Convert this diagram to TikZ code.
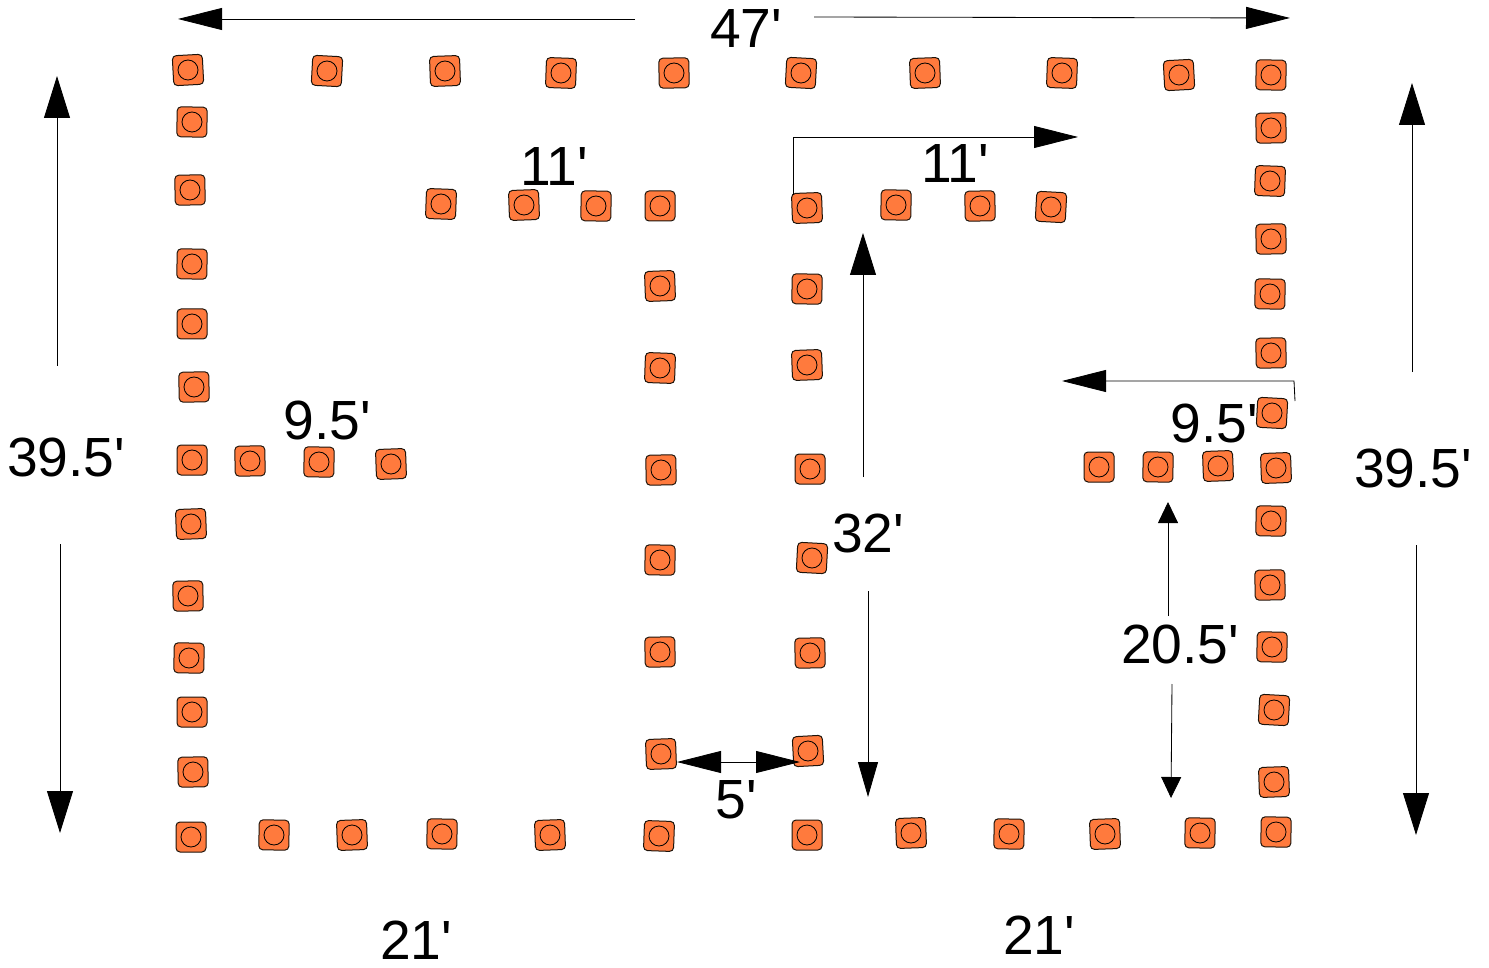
\documentclass[tikz,border=0pt]{standalone}
\usepackage{fontspec}
\newfontfamily\labelfont{Liberation Sans}
\usetikzlibrary{arrows.meta}
\definecolor{coneorange}{RGB}{255,122,61}
\tikzset{
  x=0.5pt,y=-0.5pt,
  conebox/.style={draw=black!85!brown,line width=0.5pt,fill=coneorange,rounded corners=2pt,minimum size=15pt,inner sep=0pt,outer sep=0pt},
  conering/.style={draw=black,line width=0.4pt,circle,minimum size=10pt,inner sep=0pt,fill=coneorange},
  dimline/.style={draw=black,line width=0.42pt,-{Triangle[length=22pt,width=11pt]}},
  dimtall/.style={draw=black,line width=0.42pt,-{Triangle[length=21pt,width=13pt]}},
  dimdown/.style={draw=black,line width=0.42pt,-{Triangle[length=17.5pt,width=10pt]}},
  dimsmall/.style={draw=black,line width=0.42pt,-{Triangle[length=10.5pt,width=10pt]}},
  dimlabel/.style={font=\labelfont\fontsize{27.6}{30}\selectfont,inner sep=0pt},
}
\begin{document}
\begin{tikzpicture}
\useasboundingbox (0,0) rectangle (1489,968);
\foreach \cn/\cx/\cy/\cr in {
 a1/188/70/3,a2/327/71/-3,a3/445/71/2,a4/561/73/-2,a5/674/73/1,a6/801/73/-3,a7/925/73/2,a8/1062/73/-2,a9/1179/75/3,a10/1271/75/-1,
 r1/1271/128/1,r2/1270/181/-2,r3/1271/239/1,r4/1270/294/-1,r5/1271/353/1,r6/1272/413/-3,r7/1276/468/2,r8/1271/521/-1,r9/1270/585/1,r10/1272/647/-1,r11/1274/710/-3,r12/1274/782/2,r13/1276/832/-1,
 l1/192/122/-1,l2/190/190/1,l3/192/264/-1,l4/192/324/0,l5/194/387/1,l6/192/460/0,l7/191/524/2,l8/188/596/1,l9/189/658/-1,l10/192/712/0,l11/193/772/1,
 b1/191/837/0,b2/274/835/-1,b3/352/835/2,b4/442/834/-1,b5/550/835/2,b6/659/836/-2,b7/807/835/0,b8/911/833/2,b9/1009/834/-1,b10/1105/834/2,b11/1200/833/-1,
 m1/441/204/-2,m2/524/205/2,m3/596/206/-1,m4/660/206/0,
 n1/807/208/2,n2/896/205/-1,n3/980/206/1,n4/1051/207/-3,
 p1/660/286/2,p2/660/368/-2,p3/661/470/1,p4/660/560/-1,p5/660/652/1,p6/661/754/2,
 q1/807/289/-1,q2/807/365/2,q3/810/469/0,q4/812/558/-3,q5/810/653/1,q6/808/751/3,
 w1/250/461/1,w2/319/462/-1,w3/391/464/2,
 v1/1099/467/0,v2/1158/467/-1,v3/1218/466/2} {
  \node[conebox,rotate=\cr] (\cn) at (\cx,\cy) {};
  \node[conering] (\cn ring) at (\cx,\cy) {};
}
\coordinate (tl) at (635,19);   \coordinate (tlEnd) at (178,19);
\coordinate (tr) at (814,17);   \coordinate (trEnd) at (1290,18);
\coordinate (lu) at (57,366);   \coordinate (luEnd) at (57,76);
\coordinate (ld) at (60,544);   \coordinate (ldEnd) at (60,833);
\coordinate (ru) at (1412,372); \coordinate (ruEnd) at (1412,83);
\coordinate (rd) at (1416,545); \coordinate (rdEnd) at (1416,835);
\coordinate (e0) at (793,195);  \coordinate (e1) at (793,137);  \coordinate (eEnd) at (1078,137);
\coordinate (c1) at (863,477);  \coordinate (c1End) at (863,233);
\coordinate (c2) at (868,591);  \coordinate (c2End) at (868,797);
\coordinate (g1) at (1168,616); \coordinate (g1End) at (1168,502);
\coordinate (g2) at (1172,684); \coordinate (g2End) at (1171,798);
\coordinate (h0) at (1295,401); \coordinate (h1) at (1294,381); \coordinate (hEnd) at (1062,381);
\coordinate (f1) at (677,762);  \coordinate (f2) at (800,762);
\draw[dimline] (tl) -- (tlEnd);
\draw[dimline] (tr) -- (trEnd);
\draw[dimtall] (lu) -- (luEnd);
\draw[dimtall] (ld) -- (ldEnd);
\draw[dimtall] (ru) -- (ruEnd);
\draw[dimtall] (rd) -- (rdEnd);
\draw[dimline] (e0) -- (e1) -- (eEnd);
\draw[dimtall] (c1) -- (c1End);
\draw[dimdown] (c2) -- (c2End);
\draw[dimsmall] (g1) -- (g1End);
\draw[dimsmall] (g2) -- (g2End);
\draw[dimline] (h0) -- (h1) -- (hEnd);
\draw[draw=black,line width=0.42pt,{Triangle[length=22pt,width=11pt]}-{Triangle[length=22pt,width=11pt]}] (f1) -- (f2);
\node[dimlabel] (t47) at (746,29) {47'};
\node[dimlabel] (t11a) at (554,167) {11'};
\node[dimlabel] (t11b) at (955,164) {11'};
\node[dimlabel] (t95a) at (327,420) {9.5'};
\node[dimlabel] (t95b) at (1214,423) {9.5'};
\node[dimlabel] (t395a) at (66,457) {39.5'};
\node[dimlabel] (t395b) at (1413,468) {39.5'};
\node[dimlabel] (t32) at (868,533) {32'};
\node[dimlabel] (t205) at (1180,644) {20.5'};
\node[dimlabel] (t5) at (736,800) {5'};
\node[dimlabel] (t21a) at (416,940) {21'};
\node[dimlabel] (t21b) at (1039,935) {21'};
\end{tikzpicture}
\end{document}
